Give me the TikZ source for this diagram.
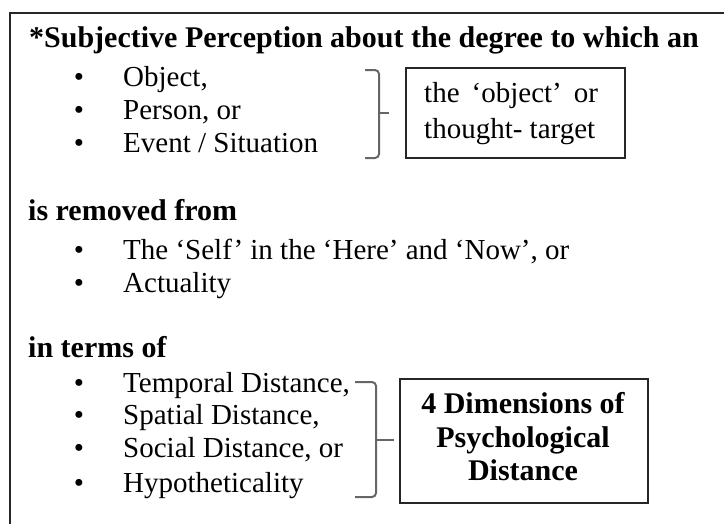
\documentclass[tikz,border=0pt]{standalone}
\usepackage{fontspec}
\setmainfont{Liberation Serif}
\begin{document}
\begin{tikzpicture}[x=1pt,y=-1pt,
  txt/.style={anchor=base west, inner sep=0pt, font=\fontsize{29}{33}\selectfont},
  hd/.style={anchor=base west, inner sep=0pt, font=\fontsize{30}{33}\selectfont\bfseries},
  ctr/.style={anchor=base, inner sep=0pt, font=\fontsize{30}{33}\selectfont\bfseries},
  bul/.style={anchor=base, inner sep=0pt, font=\fontsize{29}{33}\selectfont},
  frameline/.style={line width=2pt, draw=black!85},
  boxed/.style={line width=2pt, draw=black!85, anchor=north west, inner sep=0pt},
  bracestyle/.style={line width=2pt, draw=black!60, rounded corners=4pt}]
\useasboundingbox (0,0) rectangle (724,523);
% outer frame (cropped)
\draw[frameline] (10,530) -- (10,13) -- (730,13);
% header 1
\node[hd] (h1) at (29,47) {*Subjective Perception about the degree to which an};
\foreach \y/\t/\n in {86/{Object,}/a1, 119/{Person, or}/a2, 152/{Event / Situation}/a3}{
  \node[bul] (b\n) at (79,\y) {\textbullet};
  \node[txt] (\n) at (123,\y) {\t};
}
% brace 1
\draw[bracestyle] (365,70) -- (379,70) -- (379,113) -- (379,158) -- (365,158);
\draw[bracestyle, rounded corners=0pt] (379,113) -- (389,113);
\node[boxed, minimum width=219pt, minimum height=90pt] (box1) at (405,67) {};
\node[txt] (o1) at (424,102) {the \,‘object’\, or};
\node[txt] (o2) at (424,138) {thought- target};
% header 2
\node[hd] (h2) at (28,220) {is removed from};
\foreach \y/\t/\n in {259/{The ‘Self’ in the ‘Here’ and ‘Now’, or}/c1, 292/{Actuality}/c2}{
  \node[bul] (b\n) at (79,\y) {\textbullet};
  \node[txt] (\n) at (123,\y) {\t};
}
% header 3
\node[hd] (h3) at (28,357) {in terms of};
\foreach \y/\t/\n in {392/{Temporal Distance,}/d1, 424/{Spatial Distance,}/d2, 457/{Social Distance, or}/d3, 492/{Hypotheticality}/d4}{
  \node[bul] (b\n) at (79,\y) {\textbullet};
  \node[txt] (\n) at (123,\y) {\t};
}
% brace 2
\draw[bracestyle] (355,382) -- (376,382) -- (376,440) -- (376,497) -- (355,497);
\draw[bracestyle, rounded corners=0pt] (376,440) -- (394,440);
\node[boxed, minimum width=248pt, minimum height=124pt] (box2) at (399,378) {};
\node[ctr] (p1) at (523,413) {4 Dimensions of};
\node[ctr] (p2) at (523,447) {Psychological};
\node[ctr] (p3) at (523,480) {Distance};
\end{tikzpicture}
\end{document}
